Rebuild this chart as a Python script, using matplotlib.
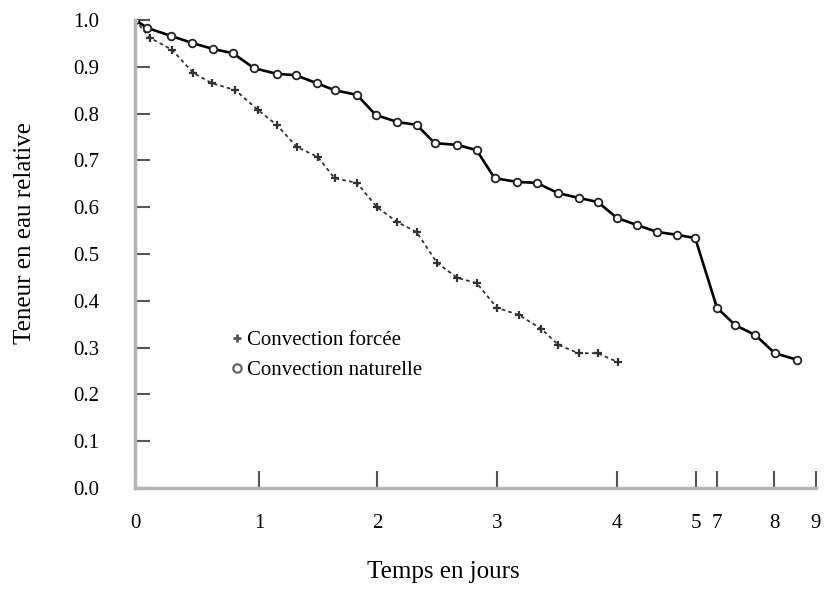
import numpy as np
import matplotlib.pyplot as plt
from matplotlib.lines import Line2D

plt.rcParams['font.family'] = ['Liberation Serif', 'DejaVu Serif']

# time in days, relative water content
days_naturelle = [0, 0.10, 0.29, 0.46, 0.63, 0.79, 0.96, 1.15, 1.31, 1.49,
                  1.64, 1.83, 1.99, 2.17, 2.33, 2.48, 2.67, 2.83, 2.98, 3.17,
                  3.33, 3.51, 3.68, 3.84, 4.00, 4.25, 4.51, 4.76, 4.99, 7.00,
                  7.32, 7.67, 8.02, 8.55]
teneur_naturelle = [1.0, 0.983, 0.966, 0.951, 0.938, 0.929, 0.897, 0.885,
                    0.882, 0.865, 0.850, 0.840, 0.797, 0.782, 0.776, 0.737,
                    0.733, 0.722, 0.662, 0.654, 0.652, 0.630, 0.620, 0.611,
                    0.577, 0.562, 0.547, 0.541, 0.534, 0.385, 0.348, 0.327,
                    0.288, 0.274]

days_forcee = [0, 0.12, 0.30, 0.47, 0.62, 0.81, 0.99, 1.15, 1.32, 1.50, 1.64,
               1.83, 2.00, 2.17, 2.33, 2.50, 2.67, 2.83, 3.00, 3.18, 3.37,
               3.51, 3.68, 3.84, 4.01]
teneur_forcee = [1.0, 0.962, 0.936, 0.887, 0.865, 0.850, 0.808, 0.776, 0.729,
                 0.707, 0.662, 0.652, 0.600, 0.568, 0.547, 0.481, 0.449,
                 0.438, 0.385, 0.370, 0.340, 0.306, 0.288, 0.288, 0.269]

x_ticks = [0, 1, 2, 3, 4, 5, 7, 8, 9]
y_ticks = [0.0, 0.1, 0.2, 0.3, 0.4, 0.5, 0.6, 0.7, 0.8, 0.9, 1.0]

# broken time axis: position of each tick along the axis
tick_pos = [0, 124, 242, 362, 482, 561, 582, 639, 681]


def fwd(x):
    return np.interp(x, x_ticks, tick_pos)


def inv(p):
    return np.interp(p, tick_pos, x_ticks)


fig = plt.figure(figsize=(8.27, 5.90), dpi=100)
ax = fig.add_axes([135 / 827, 1 - 488 / 590, 681 / 827, 468 / 590])
ax.set_xscale('function', functions=(fwd, inv))

ax.plot(days_forcee, teneur_forcee, color='#333333', lw=1.3,
        linestyle=(0, (2, 1.8)), marker='+', markersize=6, mew=1.6)
ax.plot(days_naturelle, teneur_naturelle, color='black', lw=1.9,
        marker='o', markersize=5.5, mfc='white', mec='#222222', mew=1.3)

ax.set_xlim(0, 9)
ax.set_ylim(0, 1.0)
ax.set_xticks(x_ticks)
ax.set_xticklabels([str(t) for t in x_ticks])
ax.set_yticks(y_ticks)
ax.set_yticklabels(['%.1f' % t for t in y_ticks])

for s in ['top', 'right']:
    ax.spines[s].set_visible(False)
for s in ['left', 'bottom']:
    ax.spines[s].set_color('#b5b5b5')
    ax.spines[s].set_linewidth(2.5)

ax.tick_params(axis='x', direction='in', length=12, width=1.5,
               color='#555555', pad=19, labelsize=15)
ax.tick_params(axis='y', direction='in', length=11, width=1.5,
               color='#555555', pad=26, labelsize=15)

fig.text(25 / 827, 1 - 233 / 590, 'Teneur en eau relative', rotation=90,
         ha='center', va='center', fontsize=18)
fig.text(443 / 827, 1 - 572 / 590, 'Temps en jours', ha='center',
         va='center', fontsize=18)

handles = [Line2D([], [], color='#555555', marker='+', linestyle='none',
                  markersize=6, mew=2),
           Line2D([], [], color='#666666', marker='o', mfc='white',
                  linestyle='none', markersize=6, mew=1.6)]
ax.legend(handles, ['Convection forcée', 'Convection naturelle'],
          loc='upper left', bbox_to_anchor=(220 / 827, 1 - 320 / 590),
          bbox_transform=fig.transFigure, frameon=False, fontsize=15,
          handlelength=0.6, handletextpad=0.2, labelspacing=0.5,
          borderpad=0)

fig.savefig('out.png', dpi=100)
